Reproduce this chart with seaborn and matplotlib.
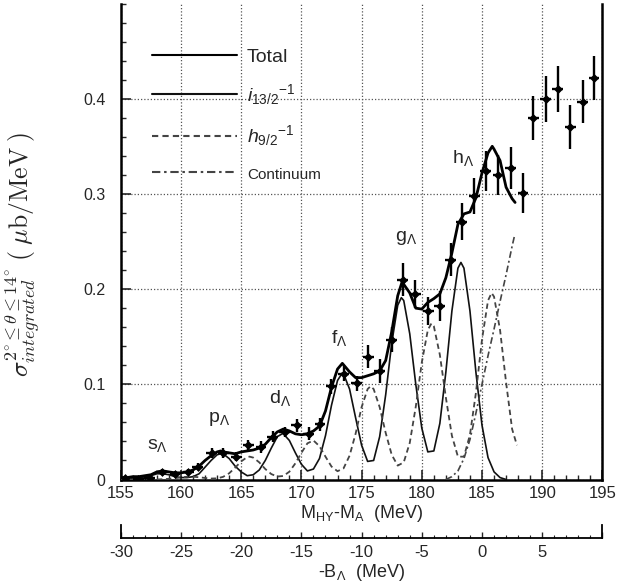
import matplotlib
matplotlib.use("Agg")
import matplotlib.pyplot as plt
import seaborn as sns
import pandas as pd
from matplotlib.ticker import MultipleLocator, FixedLocator, NullLocator

# ---------------- data points ----------------
mass = [155.35, 156.45, 157.4, 158.4, 159.5, 160.6, 161.4, 162.55, 163.5, 164.6,
        165.6, 166.65, 167.6, 168.6, 169.6, 170.6, 171.55, 172.5, 173.5, 174.6,
        175.55, 176.5, 177.5, 178.4, 179.45, 180.55, 181.5, 182.4, 183.3, 184.35,
        185.3, 186.35, 187.4, 188.4, 189.25, 190.3, 191.3, 192.35, 193.35, 194.3]
xsec = [0.002, 0.001, 0.002, 0.008, 0.006, 0.008, 0.0135, 0.028, 0.028, 0.024,
        0.036, 0.034, 0.045, 0.050, 0.057, 0.048, 0.058, 0.098, 0.111, 0.101,
        0.129, 0.114, 0.147, 0.210, 0.195, 0.177, 0.182, 0.231, 0.271, 0.298,
        0.324, 0.320, 0.327, 0.301, 0.380, 0.400, 0.410, 0.370, 0.397, 0.422]
xsec_err = [0.002, 0.002, 0.002, 0.003, 0.003, 0.003, 0.004, 0.005, 0.005, 0.005,
            0.006, 0.006, 0.006, 0.005, 0.007, 0.007, 0.007, 0.008, 0.008, 0.008,
            0.012, 0.013, 0.013, 0.017, 0.015, 0.015, 0.016, 0.017, 0.019, 0.019,
            0.021, 0.021, 0.022, 0.021, 0.023, 0.024, 0.024, 0.023, 0.023, 0.023]
bin_half = 0.45

# ---------------- fitted curves ----------------
total_m = [155.0, 155.5, 156.0, 156.5, 157.0, 157.5, 158.0, 158.5, 159.0, 159.5,
           160.0, 160.5, 161.0, 161.5, 162.0, 162.5, 163.0, 163.3, 163.5, 164.0,
           164.5, 165.0, 165.5, 166.0, 166.5, 167.0, 167.5, 168.0, 168.5, 169.0,
           169.5, 170.0, 170.5, 171.0, 171.5, 172.0, 172.5, 173.0, 173.4, 174.0,
           174.5, 175.0, 175.5, 176.0, 176.5, 177.0, 177.5, 178.0, 178.35, 178.5,
           179.0, 179.5, 180.0, 180.5, 181.0, 181.5, 182.0, 182.5, 183.0, 183.5,
           184.0, 184.5, 185.0, 185.5, 185.85, 186.0, 186.5, 187.0, 187.5, 187.75]
total_v = [0.002, 0.002, 0.003, 0.003, 0.004, 0.005, 0.008, 0.009, 0.008, 0.007,
           0.007, 0.008, 0.010, 0.014, 0.020, 0.025, 0.029, 0.030, 0.029, 0.028,
           0.027, 0.029, 0.030, 0.031, 0.033, 0.037, 0.044, 0.050, 0.053, 0.051,
           0.048, 0.047, 0.048, 0.051, 0.056, 0.072, 0.097, 0.116, 0.122, 0.113,
           0.107, 0.107, 0.109, 0.111, 0.114, 0.125, 0.155, 0.193, 0.207, 0.205,
           0.196, 0.180, 0.179, 0.186, 0.190, 0.195, 0.212, 0.238, 0.268, 0.279,
           0.281, 0.296, 0.322, 0.343, 0.350, 0.347, 0.335, 0.307, 0.295, 0.291]

i13_m = [155.0, 155.5, 156.0, 156.5, 157.0, 157.5, 158.0, 158.5, 159.0, 159.5,
         160.0, 160.5, 161.0, 161.5, 162.0, 162.5, 163.0, 163.3, 163.5, 164.0,
         164.5, 165.0, 165.5, 166.0, 166.5, 167.0, 167.5, 168.0, 168.4, 168.5,
         169.0, 169.5, 170.0, 170.5, 171.0, 171.5, 172.0, 172.5, 173.0, 173.4,
         173.5, 174.0, 174.5, 175.0, 175.5, 176.0, 176.5, 177.0, 177.5, 178.0,
         178.3, 178.5, 179.0, 179.5, 180.0, 180.5, 181.0, 181.5, 182.0, 182.5,
         183.0, 183.25, 183.5, 184.0, 184.5, 185.0, 185.5, 186.0, 186.5, 187.0]
i13_v = [0.000, 0.000, 0.001, 0.001, 0.003, 0.004, 0.006, 0.006, 0.005, 0.003,
         0.002, 0.002, 0.003, 0.006, 0.013, 0.020, 0.026, 0.027, 0.027, 0.022,
         0.014, 0.008, 0.004, 0.005, 0.010, 0.020, 0.033, 0.045, 0.048, 0.048,
         0.041, 0.028, 0.016, 0.009, 0.011, 0.022, 0.046, 0.078, 0.104, 0.112,
         0.111, 0.095, 0.065, 0.036, 0.019, 0.020, 0.045, 0.089, 0.143, 0.183,
         0.191, 0.188, 0.153, 0.100, 0.054, 0.029, 0.030, 0.059, 0.113, 0.177,
         0.222, 0.228, 0.222, 0.177, 0.112, 0.057, 0.023, 0.008, 0.002, 0.000]

h9_m = [155.0, 156.0, 157.0, 158.0, 158.5, 159.0, 159.5, 160.0, 160.5, 161.0,
        161.5, 162.0, 162.5, 163.0, 163.5, 164.0, 164.5, 165.0, 165.5, 165.7,
        166.0, 166.5, 167.0, 167.5, 168.0, 168.5, 169.0, 169.5, 170.0, 170.5,
        171.0, 171.5, 172.0, 172.5, 173.0, 173.5, 174.0, 174.5, 175.0, 175.5,
        175.75, 176.0, 176.5, 177.0, 177.5, 178.0, 178.5, 179.0, 179.5, 180.0,
        180.5, 180.8, 181.0, 181.5, 182.0, 182.5, 183.0, 183.5, 184.0, 184.5,
        185.0, 185.5, 185.8, 186.0, 186.5, 187.0, 187.5, 187.9]
h9_v = [0.000, 0.000, 0.000, 0.000, 0.0003, 0.0007, 0.0014, 0.0022, 0.0029, 0.0029,
        0.0024, 0.0016, 0.0010, 0.0012, 0.0028, 0.0065, 0.0125, 0.019, 0.0236, 0.024,
        0.023, 0.018, 0.011, 0.0057, 0.0031, 0.0037, 0.0082, 0.017, 0.028, 0.038,
        0.041, 0.035, 0.024, 0.0136, 0.0087, 0.0117, 0.025, 0.048, 0.076, 0.095,
        0.098, 0.095, 0.076, 0.049, 0.026, 0.0146, 0.018, 0.0385, 0.0765, 0.123,
        0.157, 0.164, 0.161, 0.131, 0.086, 0.046, 0.024, 0.024, 0.047, 0.0915,
        0.147, 0.188, 0.196, 0.192, 0.157, 0.102, 0.053, 0.036]

cont_m = [182.0, 182.5, 183.0, 183.5, 184.0, 184.5, 185.0, 185.5, 186.0, 186.5,
          187.0, 187.5, 187.7]
cont_v = [0.000, 0.003, 0.009, 0.022, 0.042, 0.070, 0.100, 0.130, 0.158, 0.187,
          0.215, 0.245, 0.256]

peak_labels = ["s", "p", "d", "f", "g", "h"]
peak_label_m = [157.2, 162.25, 167.3, 172.5, 177.8, 182.5]
peak_label_v = [0.032, 0.060, 0.080, 0.143, 0.251, 0.332]

x_ticks = [155, 160, 165, 170, 175, 180, 185, 190, 195]
y_ticks = [0, 0.1, 0.2, 0.3, 0.4]
b_ticks = [-30, -25, -20, -15, -10, -5, 0, 5, 10]
b_labels = ["-30", "-25", "-20", "-15", "-10", "-5", "0", "5", ""]

# ---------------- style ----------------
sns.set_theme(style="ticks")
plt.rcParams["font.family"] = ["Liberation Sans", "DejaVu Sans"]
plt.rcParams["mathtext.fontset"] = "custom"
plt.rcParams["mathtext.rm"] = "Liberation Sans"
plt.rcParams["mathtext.it"] = "Liberation Sans:italic"
plt.rcParams["mathtext.bf"] = "Liberation Sans:bold"
plt.rcParams["mathtext.sf"] = "Liberation Sans"
plt.rcParams["axes.unicode_minus"] = False

W, H = 619, 585
fig = plt.figure(figsize=(W / 100, H / 100), dpi=100)
fig.patch.set_facecolor("white")

L, R = 120.8, 602.4          # pixel positions of the x range
B, T = 479.5, 3.5            # pixel positions of the y range
ax = fig.add_axes([L / W, 1 - B / H, (R - L) / W, (B - T) / H])

df_tot = pd.DataFrame({"m": total_m, "v": total_v})
df_i = pd.DataFrame({"m": i13_m, "v": i13_v})
df_h = pd.DataFrame({"m": h9_m, "v": h9_v})
df_c = pd.DataFrame({"m": cont_m, "v": cont_v})

sns.lineplot(data=df_tot, x="m", y="v", ax=ax, color="black", lw=2.0,
             estimator=None, sort=False, label="Total", zorder=4)
sns.lineplot(data=df_i, x="m", y="v", ax=ax, color="#111111", lw=1.2,
             estimator=None, sort=False, label=r"$i_{13/2}{}^{-1}$", zorder=3)
sns.lineplot(data=df_h, x="m", y="v", ax=ax, color="#444444", lw=1.3,
             estimator=None, sort=False, linestyle=(0, (3, 2)),
             label=r"$h_{9/2}{}^{-1}$", zorder=3)
sns.lineplot(data=df_c, x="m", y="v", ax=ax, color="#444444", lw=1.2,
             estimator=None, sort=False, linestyle=(0, (4, 1.8, 1.2, 1.8)),
             label="Continuum", zorder=3)

ax.errorbar(mass, xsec, yerr=xsec_err, xerr=bin_half, fmt="none",
            ecolor="black", elinewidth=1.7, capsize=0, zorder=5)
sns.scatterplot(x=mass, y=xsec, ax=ax, marker="D", s=16, color="black",
                edgecolor="black", linewidth=0.5, zorder=6, legend=False)

for lab, m, v in zip(peak_labels, peak_label_m, peak_label_v):
    ax.text(m, v, lab + r"$_{\Lambda}$", fontsize=14, ha="left", va="baseline")

ax.set_xlim(155, 195)
ax.set_ylim(0, 0.5)
ax.xaxis.set_major_locator(FixedLocator(x_ticks))
ax.xaxis.set_minor_locator(MultipleLocator(1))
ax.yaxis.set_major_locator(FixedLocator(y_ticks))
ax.yaxis.set_minor_locator(MultipleLocator(0.02))
ax.set_xticklabels([str(t) for t in x_ticks])
ax.set_yticklabels(["0", "0.1", "0.2", "0.3", "0.4"])
ax.tick_params(which="major", direction="in", length=7, width=1.2,
               labelsize=12, top=False, right=False)
ax.tick_params(axis="x", which="major", pad=5)
ax.tick_params(axis="y", which="major", pad=11, labelsize=11.5)
ax.tick_params(which="minor", direction="in", length=3.5, width=1.0,
               top=False, right=False)
ax.grid(True, which="major", linestyle=(0, (1, 1.6)), color="#555555", lw=0.9)
for side in ["left", "bottom", "right"]:
    ax.spines[side].set_linewidth(1.8)
    ax.spines[side].set_color("black")
ax.spines["top"].set_visible(False)

ax.set_xlabel(r"M$_{\rm HY}$-M$_{\rm A}$  (MeV)", fontsize=13)
ax.xaxis.set_label_coords(0.5, -(513 - B) / (B - T), transform=ax.transAxes)
ax.xaxis.label.set_va("center")
ax.set_ylabel(r"$\sigma^{2^{\circ}\leq\theta\leq 14^{\circ}}_{integrated}\;(\;\mu\mathrm{b/MeV}\;)$",
              fontsize=18.5, math_fontfamily="cm")
ax.yaxis.set_label_coords((43 - L) / (R - L), (B - 254) / (B - T))

handles, labels = ax.get_legend_handles_labels()
leg = ax.legend(handles, labels, loc="upper left",
                bbox_to_anchor=((151.7 - L) / (R - L), (B - 48) / (B - T)),
                frameon=False, fontsize=14, handlelength=4.4, handletextpad=0.5,
                labelspacing=0.85, borderpad=0, borderaxespad=0)
leg.get_texts()[3].set_fontsize(11)
for h in leg.get_lines():
    h.set_linewidth(1.5)

# ---------------- second (binding energy) scale ----------------
yb = 538.3
ax2 = fig.add_axes([L / W, 1 - yb / H, (R - L) / W, 13 / H])
ax2.set_xlim(-30, 10)
ax2.set_ylim(0, 1)
ax2.patch.set_alpha(0)
ax2.xaxis.set_major_locator(FixedLocator(b_ticks))
ax2.xaxis.set_minor_locator(MultipleLocator(1))
ax2.set_xticklabels(b_labels)
ax2.yaxis.set_major_locator(NullLocator())
ax2.tick_params(axis="x", which="major", direction="in", length=4, width=1.0,
                labelsize=12, pad=5)
ax2.tick_params(axis="x", which="minor", direction="in", length=2.5, width=0.8)
ax2.spines["top"].set_visible(False)
for side in ["left", "right", "bottom"]:
    ax2.spines[side].set_linewidth(1.3)
    ax2.spines[side].set_color("black")
ax2.grid(False)
ax2.set_xlabel(r"-B$_{\Lambda}$  (MeV)", fontsize=13, labelpad=1)

fig.savefig("out.png", dpi=100, facecolor="white")
